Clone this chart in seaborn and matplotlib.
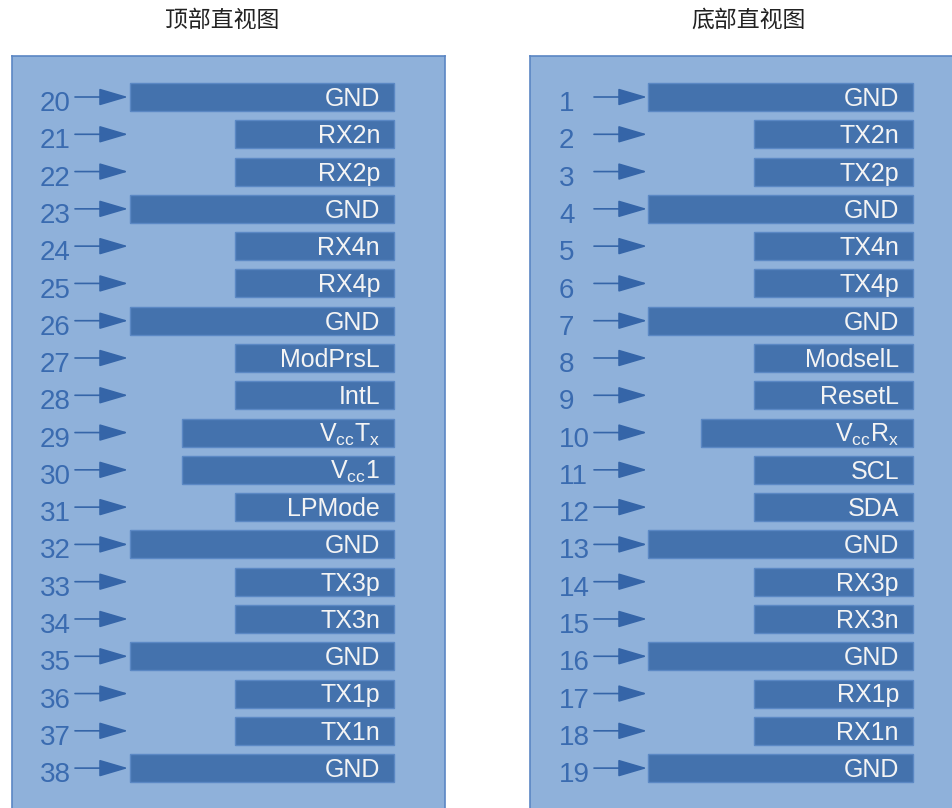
import seaborn as sns
import matplotlib.pyplot as plt

# pin numbers and signal names, top view (left) and bottom view (right)
top_pins = [str(p) for p in range(20, 39)]
top_names = ["GND", "RX2n", "RX2p", "GND", "RX4n", "RX4p", "GND", "ModPrsL",
             "IntL", r"$\mathregular{V_{cc}T_x}$", r"$\mathregular{V_{cc}1}$",
             "LPMode", "GND", "TX3p", "TX3n", "GND", "TX1p", "TX1n", "GND"]
top_lengths = [264, 159, 159, 264, 159, 159, 264, 159, 159, 212, 212, 159,
               264, 159, 159, 264, 159, 159, 264]

bottom_pins = [str(p) for p in range(1, 20)]
bottom_names = ["GND", "TX2n", "TX2p", "GND", "TX4n", "TX4p", "GND",
                "ModselL", "ResetL", r"$\mathregular{V_{cc}R_x}$", "SCL",
                "SDA", "GND", "RX3p", "RX3n", "GND", "RX1p", "RX1n", "GND"]
bottom_lengths = [265, 159, 159, 265, 159, 159, 265, 159, 159, 212, 159, 159,
                  265, 159, 159, 265, 159, 159, 265]

titles = ["顶部直视图", "底部直视图"]

PANEL = "#8FB1DA"
BORDER = "#5B86C4"
BAR = "#4472AD"
BAR_EDGE = "#5B88C4"
NUM = "#3A6BB0"
ARROW = "#3565A8"

plt.rcParams["font.family"] = ["Liberation Sans", "DejaVu Sans"]

W, H = 952, 808
fig = plt.figure(figsize=(W / 100, H / 100), dpi=100)


def draw_panel(ax, pins, names, lengths):
    sns.barplot(x=lengths, y=pins, orient="h", color=BAR, saturation=1,
                width=0.75, edgecolor=BAR_EDGE, linewidth=1, ax=ax)
    ax.set_facecolor(PANEL)
    for s in ax.spines.values():
        s.set_color(BORDER)
        s.set_linewidth(1.2)
    ax.set(xlabel="", ylabel="", xticks=[], yticks=[])
    for i, (pin, name) in enumerate(zip(pins, names)):
        ax.text(14, i + 0.24, name, ha="right", va="baseline",
                color="#F4F4F4", fontsize=18)
        ax.annotate("", xy=(266, i), xytext=(319, i),
                    arrowprops=dict(arrowstyle="-|>,head_length=18,head_width=5.3",
                                    mutation_scale=1, color=ARROW, lw=1.2,
                                    shrinkA=0, shrinkB=0))
        ax.text(354, i + 0.19, pin, ha="left", va="center", color=NUM,
                fontsize=20)


# left panel: pixel x 12..445, bar right edge at 394
ax1 = fig.add_axes([12 / W, -0.01, (445 - 12) / W, (808 - 56) / H + 0.01])
draw_panel(ax1, top_pins, top_names, top_lengths)
ax1.set_xlim(394 - 12, 394 - 445)

# right panel: pixel x 530..(off edge), bar right edge at 913
ax2 = fig.add_axes([530 / W, -0.01, (965 - 530) / W, (808 - 56) / H + 0.01])
draw_panel(ax2, bottom_pins, bottom_names, bottom_lengths)
ax2.set_xlim(913 - 530, 913 - 965)

row = 37.28
for ax in (ax1, ax2):
    ax.set_ylim((816 - 97) / row, (56 - 97) / row)

fig.text(222 / W, 1 - 20 / H, titles[0], ha="center", va="center",
         fontsize=16.5, color="#222222", family=["Noto Sans CJK SC"])
fig.text(749 / W, 1 - 20 / H, titles[1], ha="center", va="center",
         fontsize=16.5, color="#222222", family=["Noto Sans CJK SC"])

fig.savefig("out.png", dpi=100)
